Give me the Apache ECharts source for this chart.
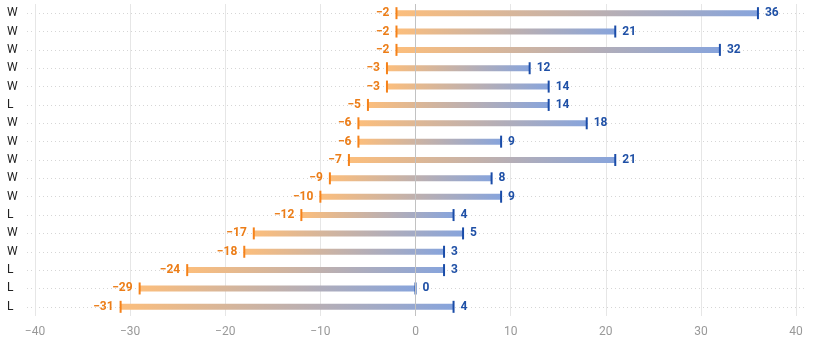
<!DOCTYPE html>
<html>
<head>
<meta charset="utf-8">
<script src="https://cdn.jsdelivr.net/npm/echarts@6/dist/echarts.min.js"></script>
<style>
  html, body { margin: 0; padding: 0; background: #fff; }
  #chart { width: 820px; height: 350px; }
</style>
</head>
<body>
<div id="chart"></div>
<script>
// rows top to bottom
let results = ['W', 'W', 'W', 'W', 'W', 'L', 'W', 'W', 'W', 'W', 'W', 'L', 'W', 'W', 'L', 'L', 'L'];
let lowValues = [-2, -2, -2, -3, -3, -5, -6, -6, -7, -9, -10, -12, -17, -18, -24, -29, -31];
let highValues = [36, 21, 32, 12, 14, 14, 18, 9, 21, 8, 9, 4, 5, 3, 3, 0, 4];
let xTicks = [-40, -30, -20, -10, 0, 10, 20, 30, 40];

let rowIndex = results.map((r, i) => i);
let rangeData = rowIndex.map(i => [lowValues[i], highValues[i], i]);
let lowData = rowIndex.map(i => [lowValues[i], i]);
let highData = rowIndex.map(i => [highValues[i], i]);

const chart = echarts.init(document.getElementById('chart'));

const fmt = v => (v < 0 ? '\u2212' + Math.abs(v) : String(v));

const option = {
  backgroundColor: '#ffffff',
  animation: false,
  textStyle: { fontFamily: 'Roboto, sans-serif' },
  grid: [
    { left: 35, right: 24, top: 4, bottom: 34 },
    // only for the dotted row guides, a bit wider than the plot
    { left: 27, right: 15, top: 13.2, bottom: 43.2 }
  ],
  xAxis: [
    {
      type: 'value',
      gridIndex: 0,
      min: xTicks[0],
      max: xTicks[xTicks.length - 1],
      interval: 10,
      axisLine: { show: false },
      axisTick: { show: false },
      axisLabel: { color: '#999', fontSize: 12, margin: 10, formatter: fmt },
      splitLine: { show: true, lineStyle: { color: '#e6e6e6', width: 1 } }
    },
    { type: 'value', gridIndex: 1, min: 0, max: 1, show: false }
  ],
  yAxis: [
    {
      type: 'category',
      gridIndex: 0,
      data: results,
      inverse: true,
      axisLine: { show: false },
      axisTick: { show: false },
      axisLabel: { color: '#222', fontSize: 12, align: 'left', margin: 28 },
      splitLine: { show: false }
    },
    {
      type: 'category',
      gridIndex: 1,
      data: results,
      inverse: true,
      boundaryGap: false,
      axisLine: { show: false },
      axisTick: { show: false },
      axisLabel: { show: false },
      splitLine: { show: true, lineStyle: { color: '#d6d6d6', type: [1, 3], width: 1 } }
    }
  ],
  series: [
    {
      // keeps the guide grid tied to a series
      type: 'scatter',
      xAxisIndex: 1,
      yAxisIndex: 1,
      data: [],
      silent: true
    },
    {
      type: 'custom',
      xAxisIndex: 0,
      yAxisIndex: 0,
      data: rangeData,
      encode: { x: [0, 1], y: 2 },
      renderItem: function (params, api) {
        const a = api.coord([api.value(0), api.value(2)]);
        const b = api.coord([api.value(1), api.value(2)]);
        const h = 6;
        return {
          type: 'rect',
          shape: { x: a[0], y: a[1] - h / 2, width: Math.max(b[0] - a[0], 0), height: h },
          style: {
            fill: new echarts.graphic.LinearGradient(0, 0, 1, 0, [
              { offset: 0, color: '#fcbe7c' },
              { offset: 1, color: '#87a4dc' }
            ])
          }
        };
      },
      z: 2
    },
    {
      type: 'scatter',
      xAxisIndex: 0,
      yAxisIndex: 0,
      data: lowData,
      symbol: 'rect',
      symbolSize: [2, 12],
      itemStyle: { color: '#f5821a', opacity: 1 },
      label: {
        show: true,
        position: 'left',
        distance: 6,
        color: '#ec7d17',
        fontSize: 12,
        fontWeight: 'bold',
        formatter: p => fmt(p.value[0])
      },
      markLine: {
        silent: true,
        symbol: 'none',
        label: { show: false },
        lineStyle: { color: '#c2c2c2', type: 'solid', width: 1 },
        data: [{ xAxis: 0 }]
      },
      z: 3
    },
    {
      type: 'scatter',
      xAxisIndex: 0,
      yAxisIndex: 0,
      data: highData,
      symbol: 'rect',
      symbolSize: [2, 12],
      itemStyle: { color: '#1a4ca8', opacity: 1 },
      label: {
        show: true,
        position: 'right',
        distance: 6,
        color: '#1f50a6',
        fontSize: 12,
        fontWeight: 'bold',
        formatter: p => fmt(p.value[0])
      },
      z: 3
    }
  ]
};

chart.setOption(option);
</script>
</body>
</html>
